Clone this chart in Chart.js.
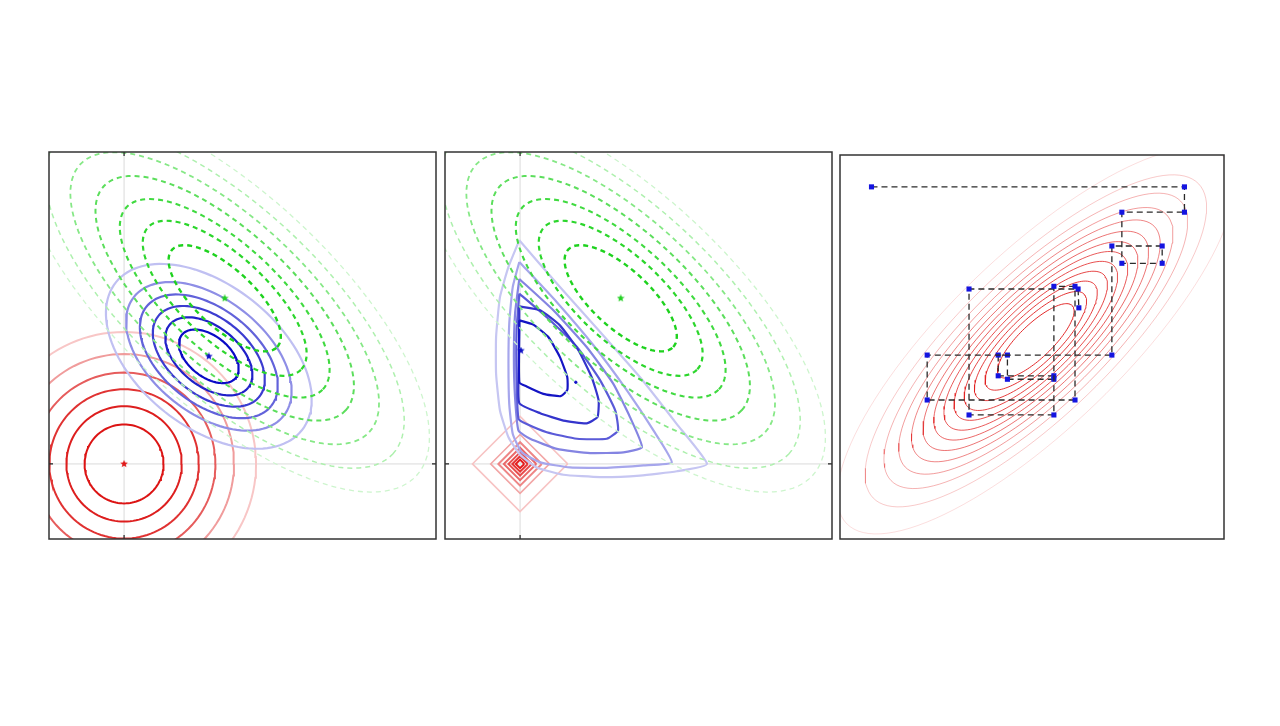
<!DOCTYPE html>
<html>
<head>
<meta charset="utf-8">
<script src="https://cdn.jsdelivr.net/npm/chart.js@4.4.1/dist/chart.umd.min.js"></script>
<style>
  body { margin: 0; background: #fff; width: 1280px; height: 726px; position: relative; overflow: hidden; }
  canvas { position: absolute; }
</style>
</head>
<body>
<canvas id="c1" width="391" height="391" style="left:47px;top:150px"></canvas>
<canvas id="c2" width="391" height="391" style="left:443px;top:150px"></canvas>
<canvas id="c3" width="388" height="388" style="left:838px;top:153px"></canvas>
<script>
// ---- panels 1 & 2 : prior, likelihood and posterior contours ----
var axisMin = -1.94, axisMax = 8.06

var redCenter = [0, 0]
var redRadii = [1.02, 1.49, 1.93, 2.36, 2.84, 3.41]

var blueCenter = [2.19, 2.78]
var blueSemiMajor = [0.89, 1.30, 1.67, 2.06, 2.47, 3.07]
var blueSemiMinor = [0.53, 0.77, 1.00, 1.22, 1.47, 1.83]
var blueAngle = -38.5

var greenCenter = [2.60, 4.28]
var greenSemiMajor = [1.85, 2.70, 3.46, 4.26, 5.09, 5.92, 6.75]
var greenSemiMinor = [0.75, 1.10, 1.40, 1.73, 2.06, 2.40, 2.74]
var greenAngle = -42.8

var diamondRadii = [1.23, 0.76, 0.56, 0.42, 0.30, 0.20, 0.11]

// posterior under the L1 prior, outer -> inner
var l1Contours = [
  [[-0.02,5.78],[0.95,4.66],[2.07,3.41],[3.10,2.24],[4.05,1.03],[4.83,0],[4.05,-0.19],[3.10,-0.30],[2.07,-0.34],[1.12,-0.28],[0.43,-0.09],[0,0.24],[-0.30,0.69],[-0.52,1.38],[-0.62,2.33],[-0.62,3.28],[-0.52,4.31],[-0.30,5.09],[-0.02,5.78]],
  [[-0.02,5.22],[0.95,4.18],[1.90,3.06],[2.76,1.90],[3.45,0.86],[3.92,0.04],[3.19,-0.04],[2.24,-0.10],[1.29,-0.09],[0.52,0.04],[0.04,0.30],[-0.19,0.78],[-0.28,1.55],[-0.30,2.59],[-0.28,3.62],[-0.19,4.57],[-0.02,5.22]],
  [[-0.02,4.78],[0.86,3.97],[1.72,3.02],[2.41,2.07],[2.84,1.21],[3.15,0.43],[2.67,0.30],[1.81,0.28],[0.95,0.39],[0.26,0.65],[-0.04,0.86],[-0.13,1.72],[-0.16,2.76],[-0.13,3.88],[-0.02,4.78]],
  [[-0.02,4.40],[0.69,3.79],[1.47,3.02],[2.07,2.16],[2.46,1.38],[2.53,0.86],[2.24,0.65],[1.47,0.65],[0.69,0.82],[0.17,1.03],[-0.04,1.16],[-0.09,2.16],[-0.09,3.45],[-0.02,4.40]],
  [[-0.02,4.07],[0.52,3.97],[1.03,3.58],[1.51,2.93],[1.85,2.24],[2.03,1.64],[2.00,1.21],[1.72,1.05],[1.12,1.12],[0.52,1.31],[-0.02,1.57],[-0.03,2.59],[-0.02,4.07]],
  [[-0.02,3.71],[0.34,3.60],[0.73,3.28],[1.03,2.76],[1.22,2.24],[1.22,1.91],[1.05,1.75],[0.60,1.81],[0.17,2.00],[-0.02,2.11],[-0.02,3.71]]
]
var l1Peak = [0.02, 2.93]
var l1Mean = [1.44, 2.11]

// ---- panel 3 : coordinate descent ----
var cdCenter = [5.10, 5.16]
var cdSemiMajor = [1.32, 1.75, 2.12, 2.47, 2.82, 3.17, 3.52, 3.89, 4.29, 4.73, 5.24, 5.89, 6.85]
var cdAxisRatio = 0.33
var cdAngle = 44
var pathX = [0.82, 8.97, 8.97, 7.34, 7.34, 8.39, 8.39, 7.08, 7.08, 2.27, 2.27, 6.12, 6.12, 5.57, 5.57, 3.36, 3.36, 6.20, 6.22]
var pathY = [9.17, 9.17, 8.51, 8.51, 7.18, 7.18, 7.63, 7.63, 4.79, 4.79, 3.62, 3.62, 6.58, 6.58, 3.23, 3.23, 6.51, 6.51, 6.02]
var innerPathX = [5.57, 4.12, 4.12, 4.36, 4.36, 5.57]
var innerPathY = [4.25, 4.25, 4.79, 4.79, 4.16, 4.16]

// styles
var redColors = ['#dc1414', '#dd1e1e', '#e03232', '#e65c5c', '#f09c9c', '#f8c6c6']
var blueColors = ['#0a0ac6', '#2020c8', '#3c3cd0', '#6262da', '#8e8ee6', '#c0c0f2']
var greenColors = ['#1ed21e', '#2cd62c', '#40da40', '#5cde5c', '#86e886', '#aef0ae', '#cdf5cd']
var greenWidths = [2.4, 2.2, 2.1, 2.0, 1.8, 1.5, 1.3]
var diamondColors = ['#f7c4c4', '#f2a6a6', '#ee8686', '#ea6a6a', '#e84e4e', '#e63434', '#e41c1c']
var l1Colors = ['#c6c6f2', '#a6a6ec', '#8484e2', '#5a5ad8', '#3434cc', '#1414c4']
var cdAlphas = [0.95, 0.9, 0.86, 0.82, 0.78, 0.74, 0.68, 0.62, 0.54, 0.44, 0.34, 0.24, 0.15]

function ellipse(c, a, b, deg){
  var t = deg * Math.PI / 180, pts = []
  for (var i = 0; i <= 120; i++){
    var u = i / 120 * 2 * Math.PI
    var ex = a * Math.cos(u), ey = b * Math.sin(u)
    pts.push({x: c[0] + ex * Math.cos(t) - ey * Math.sin(t), y: c[1] + ex * Math.sin(t) + ey * Math.cos(t)})
  }
  return pts
}

// small filled star used as point style
function starImage(color, size){
  var c = document.createElement('canvas')
  c.width = c.height = size
  var g = c.getContext('2d'), r = size / 2, ri = r * 0.45
  g.fillStyle = color
  g.beginPath()
  for (var k = 0; k < 10; k++){
    var ang = -Math.PI / 2 + k * Math.PI / 5, rr = k % 2 ? ri : r
    g.lineTo(r + rr * Math.cos(ang), r + rr * Math.sin(ang))
  }
  g.closePath()
  g.fill()
  return c
}

function line(data, color, width, order, dash, tension){
  return {data: data, showLine: true, borderColor: color, borderWidth: width, pointRadius: 0,
          borderDash: dash || [], tension: tension || 0, order: order, clip: 0, fill: false}
}

function marker(p, color, style, r){
  return {data: [{x: p[0], y: p[1]}], showLine: false, pointStyle: style, pointRadius: r,
          borderColor: color, backgroundColor: color, borderWidth: 1, order: 0, clip: 0}
}

function axisLines(){
  return [
    line([{x: 0, y: axisMin}, {x: 0, y: axisMax}], '#dadada', 1, 50),
    line([{x: axisMin, y: 0}, {x: axisMax, y: 0}], '#dadada', 1, 50)
  ]
}

function greenSets(){
  var sets = []
  for (var i = 0; i < greenSemiMajor.length; i++)
    sets.push(line(ellipse(greenCenter, greenSemiMajor[i], greenSemiMinor[i], greenAngle), greenColors[i], greenWidths[i], 5 + i, [5, 4]))
  return sets
}

var framePlugin = {
  id: 'frame',
  afterDatasetsDraw: function(chart, args, opts){
    var ctx = chart.ctx, a = chart.chartArea
    ctx.save()
    if (opts.ticks){
      var x0 = chart.scales.x.getPixelForValue(0), y0 = chart.scales.y.getPixelForValue(0)
      ctx.strokeStyle = '#222'
      ctx.lineWidth = 1.2
      ctx.beginPath()
      ctx.moveTo(x0, a.top); ctx.lineTo(x0, a.top + 4)
      ctx.moveTo(x0, a.bottom); ctx.lineTo(x0, a.bottom - 4)
      ctx.moveTo(a.left, y0); ctx.lineTo(a.left + 4, y0)
      ctx.moveTo(a.right, y0); ctx.lineTo(a.right - 4, y0)
      ctx.stroke()
    }
    ctx.strokeStyle = '#333'
    ctx.lineWidth = 1.5
    ctx.strokeRect(a.left, a.top, a.width, a.height)
    ctx.restore()
  }
}

function makeChart(id, datasets, min, max, ticks){
  var ctx = document.getElementById(id).getContext('2d')
  return new Chart(ctx, {
    type: 'scatter',
    plugins: [framePlugin],
    data: {datasets: datasets},
    options: {
      responsive: false,
      animation: false,
      events: [],
      layout: {padding: 2, autoPadding: false},
      plugins: {legend: {display: false}, tooltip: {enabled: false}, frame: {ticks: ticks}},
      scales: {
        x: {type: 'linear', min: min, max: max, display: false},
        y: {type: 'linear', min: min, max: max, display: false}
      }
    }
  })
}

var redStar = starImage('#e01818', 8)
var blueStar = starImage('#1010c8', 8)
var greenStar = starImage('#22d022', 8)

// panel 1 : gaussian prior
var sets1 = axisLines()
for (var i = 0; i < redRadii.length; i++)
  sets1.push(line(ellipse(redCenter, redRadii[i], redRadii[i], 0), redColors[i], 2, 30 + i))
for (var i = 0; i < blueSemiMajor.length; i++)
  sets1.push(line(ellipse(blueCenter, blueSemiMajor[i], blueSemiMinor[i], blueAngle), blueColors[i], 2.2, 15 + i))
sets1 = sets1.concat(greenSets())
sets1.push(marker(redCenter, '#e01818', redStar, 4))
sets1.push(marker(blueCenter, '#1010c8', blueStar, 4))
sets1.push(marker(greenCenter, '#22d022', greenStar, 4))
makeChart('c1', sets1, axisMin, axisMax, true)

// panel 2 : laplace prior
var sets2 = axisLines()
for (var i = 0; i < diamondRadii.length; i++){
  var r = diamondRadii[i]
  sets2.push(line([{x: r, y: 0}, {x: 0, y: r}, {x: -r, y: 0}, {x: 0, y: -r}, {x: r, y: 0}], diamondColors[i], i < 2 ? 1.6 : 2, 30 + i))
}
for (var i = 0; i < l1Contours.length; i++)
  sets2.push(line(l1Contours[i].map(function(p){ return {x: p[0], y: p[1]} }), l1Colors[i], 2.2, 25 - i, [], 0.15))
sets2 = sets2.concat(greenSets())
sets2.push(marker(l1Peak, '#1010c8', blueStar, 4))
sets2.push(marker(l1Mean, '#1010c8', 'circle', 1.2))
sets2.push(marker(greenCenter, '#22d022', greenStar, 4))
makeChart('c2', sets2, axisMin, axisMax, true)

// panel 3 : coordinate descent on a correlated gaussian
var sets3 = []
for (var i = 0; i < cdSemiMajor.length; i++)
  sets3.push(line(ellipse(cdCenter, cdSemiMajor[i], cdSemiMajor[i] * cdAxisRatio, cdAngle), 'rgba(225,32,32,' + cdAlphas[i] + ')', 1, 20 + i))
function pathSet(xs, ys){
  var pts = xs.map(function(x, k){ return {x: x, y: ys[k]} })
  return {data: pts, showLine: true, borderColor: '#2a2a2a', borderWidth: 1.3, borderDash: [6, 4],
          pointStyle: 'rect', pointRadius: 3.6, pointBackgroundColor: '#1414e0', pointBorderColor: '#1414e0',
          pointBorderWidth: 0, order: 1, clip: 0}
}
sets3.push(pathSet(pathX, pathY))
sets3.push(pathSet(innerPathX, innerPathY))
makeChart('c3', sets3, 0, 10, false)
</script>
</body>
</html>
